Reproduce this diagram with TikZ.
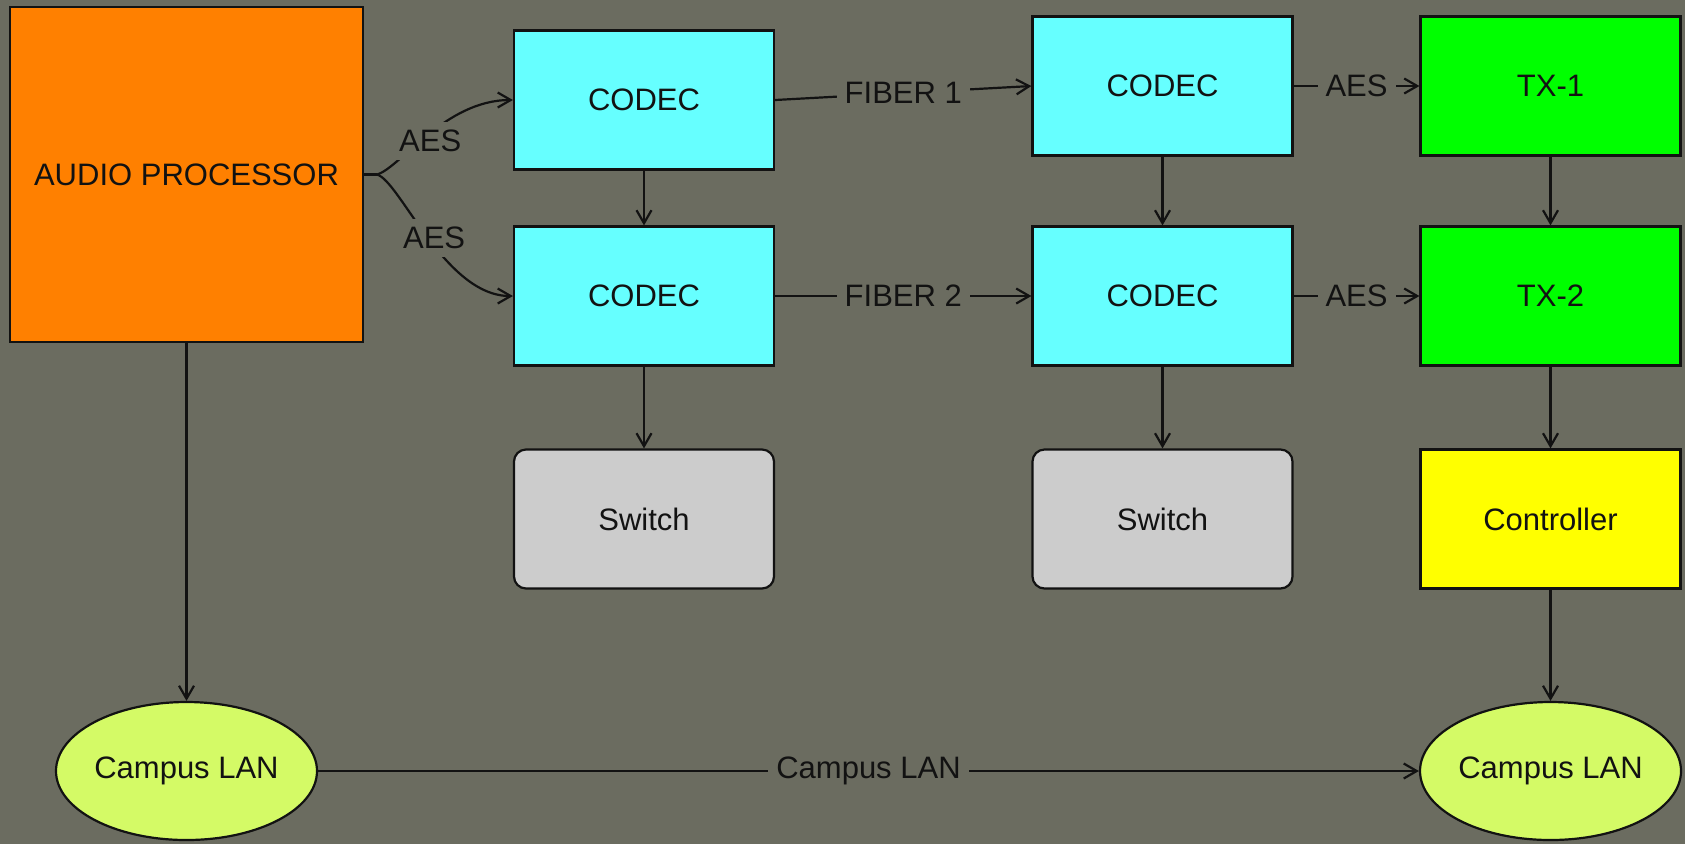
\documentclass[tikz,border=0pt]{standalone}
\usepackage{fontspec}
\setmainfont{Liberation Sans}
\usetikzlibrary{shapes.geometric,arrows.meta}
\definecolor{bgc}{RGB}{107,108,96}
\definecolor{inkc}{RGB}{18,18,18}
\definecolor{orangec}{RGB}{255,128,0}
\definecolor{cyanc}{RGB}{102,255,255}
\definecolor{greenc}{RGB}{0,255,0}
\definecolor{grayc}{RGB}{204,204,204}
\definecolor{yellowc}{RGB}{255,255,0}
\definecolor{lanc}{RGB}{212,250,102}
\begin{document}
\begin{tikzpicture}[x=0.5pt,y=-0.5pt,
  every node/.style={font=\fontsize{15.5}{18}\selectfont, text=inkc},
  box/.style={draw=inkc, line width=1.1pt, rectangle, inner sep=0pt,
              minimum width=130pt, minimum height=69.5pt},
  codecbox/.style={box, fill=cyanc},
  txbox/.style={box, fill=greenc},
  switchbox/.style={box, fill=grayc, rounded corners=6pt},
  ctrlbox/.style={box, fill=yellowc},
  lanbox/.style={draw=inkc, line width=1.1pt, ellipse, fill=lanc, inner sep=0pt,
              minimum width=130.5pt, minimum height=69pt},
  conn/.style={draw=inkc, line width=1.1pt, -{Straight Barb[length=6.5pt,width=7.5pt]}},
  plainconn/.style={draw=inkc, line width=1.1pt},
  lbl/.style={fill=bgc, inner sep=4pt, text=inkc}
]
\useasboundingbox (0,0) rectangle (1685,843);
\fill[bgc] (-10,-10) rectangle (1695,853);

\node[box, fill=orangec, minimum width=176.5pt, minimum height=167.5pt] (ap) at (186.5,174.5) {AUDIO PROCESSOR};
\node[codecbox] (c1) at (644,100) {CODEC};
\node[codecbox] (c2) at (644,296) {CODEC};
\node[switchbox] (sw1) at (644,519) {Switch};
\node[codecbox] (c3) at (1162.5,86) {CODEC};
\node[codecbox] (c4) at (1162.5,296) {CODEC};
\node[switchbox] (sw2) at (1162.5,519) {Switch};
\node[txbox] (tx1) at (1550.5,86) {TX-1};
\node[txbox] (tx2) at (1550.5,296) {TX-2};
\node[ctrlbox] (ctrl) at (1550.5,519) {Controller};
\node[lanbox] (lan1) at (186.5,771) {Campus LAN};
\node[lanbox] (lan2) at (1550.5,771) {Campus LAN};

\coordinate (fork) at (377,174.5);
\draw[plainconn] (ap.east) -- (fork);
\draw[conn] (fork) .. controls (400,168) and (445,100) .. (c1.west) node[lbl, pos=0.44, xshift=5pt] {AES};
\draw[conn] (fork) .. controls (400,181) and (445,296) .. (c2.west) node[lbl, pos=0.5, xshift=3pt] {AES};

\draw[conn] (c1.east) -- (c3.west) node[lbl, midway] {FIBER 1};
\draw[conn] (c2.east) -- (c4.west) node[lbl, midway] {FIBER 2};
\draw[conn] (c3.east) -- (tx1.west) node[lbl, midway] {AES};
\draw[conn] (c4.east) -- (tx2.west) node[lbl, midway] {AES};

\draw[conn] (c1.south) -- (c2.north);
\draw[conn] (c2.south) -- (sw1.north);
\draw[conn] (c3.south) -- (c4.north);
\draw[conn] (c4.south) -- (sw2.north);
\draw[conn] (tx1.south) -- (tx2.north);
\draw[conn] (tx2.south) -- (ctrl.north);
\draw[conn] (ctrl.south) -- (lan2.north);
\draw[conn] (ap.south) -- (lan1.north);
\draw[conn] (lan1.east) -- (lan2.west) node[lbl, midway] {Campus LAN};
\end{tikzpicture}
\end{document}
